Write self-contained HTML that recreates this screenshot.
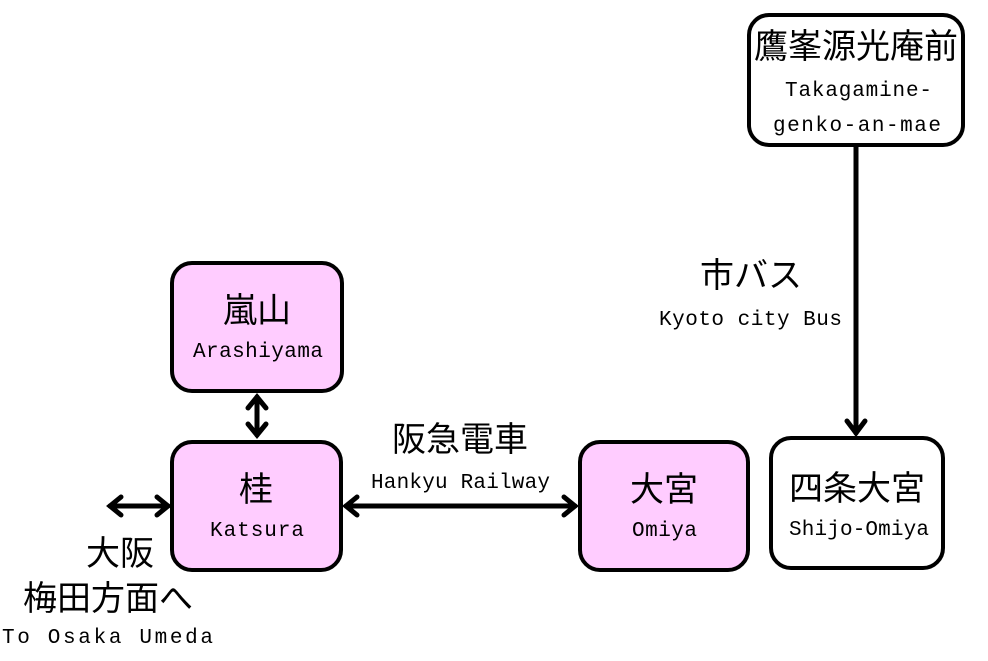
<!DOCTYPE html>
<html><head><meta charset="utf-8"><style>
body{margin:0;background:#fff}
svg text{font-family:"Liberation Mono","Noto Sans CJK JP",monospace;fill:#000}
.j{font-family:"Liberation Sans","Noto Sans CJK JP",sans-serif;font-size:34px;text-anchor:middle}
.e{font-size:21px}
</style></head><body>
<svg width="988" height="656" viewBox="0 0 988 656" xmlns="http://www.w3.org/2000/svg">
<g stroke="#000" stroke-width="4">
<rect x="172" y="263" width="170" height="128" rx="20" fill="#ffccff"/>
<rect x="172" y="442" width="169" height="128" rx="20" fill="#ffccff"/>
<rect x="580" y="442" width="168" height="128" rx="20" fill="#ffccff"/>
<rect x="771" y="438" width="172" height="130" rx="20" fill="#fff"/>
<rect x="749" y="15" width="214" height="130" rx="20" fill="#fff"/>
</g>
<g stroke="#000" stroke-width="5" fill="none" stroke-linecap="round" stroke-linejoin="miter">
<line x1="257" y1="397" x2="257" y2="435"/><polyline points="248,408 257,397 266,408"/><polyline points="248,424 257,435 266,424"/>
<line x1="346" y1="506" x2="575" y2="506"/><polyline points="357,497 346,506 357,515"/><polyline points="564,497 575,506 564,515"/>
<line x1="110" y1="506" x2="168" y2="506"/><polyline points="121,497 110,506 121,515"/><polyline points="157,497 168,506 157,515"/>
<line x1="856" y1="146" x2="856" y2="433"/><polyline points="847,421 856,433 865,421"/>
</g>
<text class="j" x="257" y="322">嵐山</text>
<text class="e" x="193" y="357" textLength="130">Arashiyama</text>
<text class="j" x="256" y="501">桂</text>
<text class="e" x="210" y="536" textLength="94">Katsura</text>
<text class="j" x="664" y="501">大宮</text>
<text class="e" x="632" y="536" textLength="65">Omiya</text>
<text class="j" x="857" y="500">四条大宮</text>
<text class="e" x="789" y="535" textLength="140">Shijo-Omiya</text>
<text class="j" x="856" y="58">鷹峯源光庵前</text>
<text class="e" x="785" y="96" textLength="147">Takagamine-</text>
<text class="e" x="773" y="131" textLength="168">genko-an-mae</text>
<text class="j" x="460" y="451">阪急電車</text>
<text class="e" x="371" y="488" textLength="179">Hankyu Railway</text>
<text class="j" x="751" y="287">市バス</text>
<text class="e" x="659" y="325" textLength="183">Kyoto city Bus</text>
<text class="j" x="120" y="565">大阪</text>
<text class="j" x="108" y="610">梅田方面へ</text>
<text class="e" x="2" y="643" textLength="211">To Osaka  Umeda</text>
</svg>
</body></html>
